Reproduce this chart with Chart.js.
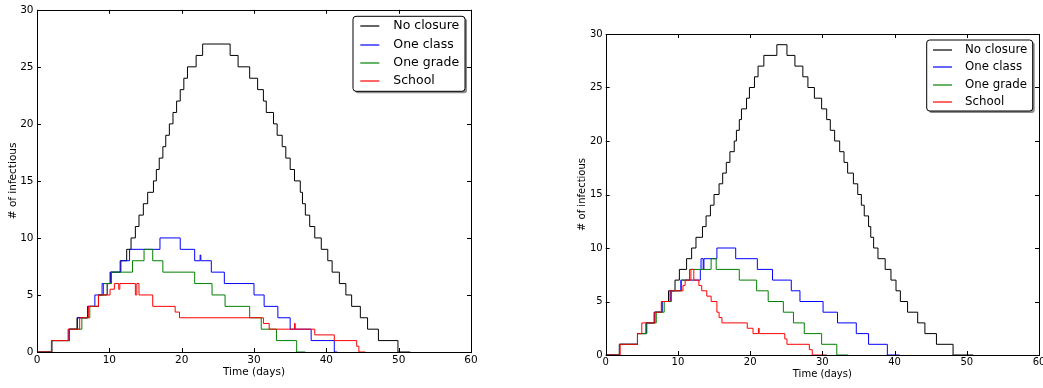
<!DOCTYPE html>
<html>
<head>
<meta charset="utf-8">
<script src="https://cdn.jsdelivr.net/npm/chart.js@4.4.0/dist/chart.umd.min.js"></script>
<style>
  html, body { margin: 0; padding: 0; background: #fff; overflow: hidden; width: 1043px; height: 388px; }
  .panel { position: absolute; top: 0; width: 520px; height: 388px; }
  #left { left: 0; }
  #right { left: 540px; }
</style>
</head>
<body>
<div class="panel" id="left"><canvas id="chartLeft" width="520" height="388"></canvas></div>
<div class="panel" id="right"><canvas id="chartRight" width="520" height="388"></canvas></div>
<script>
// Datos: cada serie es una función escalón (tiempo del cambio, nuevo valor)
const etiquetas = ['No closure', 'One class', 'One grade', 'School'];
const colores = ['#000000', '#0000ff', '#008000', '#ff0000'];
const ticksX = [0, 10, 20, 30, 40, 50, 60];
const ticksY = [0, 5, 10, 15, 20, 25, 30];

// Gráfico izquierdo
const izqNoClosureT = [0, 2.07, 4.47, 5.53, 7.0, 8.5, 9.7, 10.2, 11.5, 12.4, 13.0, 13.6, 14.1, 14.7, 15.3, 16.1, 16.5, 16.9, 17.4, 17.8, 18.3, 18.8, 19.3, 19.8, 20.3, 20.8, 22.0, 22.9,
  26.7, 27.8, 29.4, 30.5, 31.3, 31.7, 32.7, 33.2, 33.9, 34.4, 35.0, 35.6, 36.4, 36.7, 37.1, 37.7, 38.4, 39.3, 40.2, 40.8, 41.8, 42.7, 43.5, 44.7, 45.7, 47.2, 49.9, 51.6];
const izqNoClosureV = [0, 1, 2, 3, 4, 5, 6, 7, 8, 9, 10, 11, 12, 13, 14, 15, 16, 17, 18, 19, 20, 21, 22, 23, 24, 25, 26, 27,
  26, 25, 24, 23, 22, 21, 20, 19, 18, 17, 16, 15, 14, 13, 12, 11, 10, 9, 8, 7, 6, 5, 4, 3, 2, 1, 0, 0];
const izqOneClassT = [0, 2.0, 4.4, 5.6, 7.0, 8.0, 9.0, 10.1, 11.6, 12.8, 17.0, 19.8, 21.8, 22.55, 22.65, 24.1, 25.9, 30.0, 31.4, 33.3, 35.0, 37.9, 41.1, 41.5];
const izqOneClassV = [0, 1, 2, 3, 4, 5, 6, 7, 8, 9, 10, 9, 8, 8.5, 8, 7, 6, 5, 4, 3, 2, 1, 0, 0];
const izqOneGradeT = [0, 2.0, 4.5, 6.2, 7.3, 8.5, 9.2, 10.3, 13.2, 14.8, 16.0, 17.4, 21.8, 24.2, 26.0, 29.4, 31.0, 33.1, 35.9, 37.1];
const izqOneGradeV = [0, 1, 2, 3, 4, 5, 6, 7, 8, 9, 8, 7, 6, 5, 4, 3, 2, 1, 0, 0];
const izqSchoolT = [0, 2.0, 4.3, 5.9, 7.1, 8.5, 10.1, 10.7, 11.3, 11.45, 13.6, 13.8, 14.1, 16.0, 19.1, 19.7, 31.3, 32.1, 35.6, 35.7, 38.4, 41.1, 44.2, 44.5, 45.4];
const izqSchoolV = [0, 1, 2, 3, 4, 5, 5.5, 6, 5.5, 6, 5, 6, 5, 4, 3.5, 3, 2.5, 2, 2.5, 2, 1.5, 1, 0.5, 0, 0];

// Gráfico derecho
const derNoClosureT = [0, 1.9, 4.4, 5.6, 6.8, 7.8, 8.7, 9.6, 10.2, 11.2, 11.9, 12.5, 13.4, 13.9, 14.5, 15.0, 15.7, 16.2, 16.7, 17.2, 17.8, 18.1, 18.5, 18.8, 19.5, 19.9, 20.6, 21.1, 21.9, 23.7,
  25.1, 26.2, 27.3, 28.0, 28.9, 29.9, 30.6, 31.1, 31.7, 32.4, 33.0, 33.5, 34.3, 34.9, 35.4, 35.8, 36.4, 36.7, 37.1, 37.7, 38.7, 39.5, 40.2, 40.8, 41.8, 43.2, 44.2, 45.8, 48.1, 50.9];
const derNoClosureV = [0, 1, 2, 3, 4, 5, 6, 7, 8, 9, 10, 11, 12, 13, 14, 15, 16, 17, 18, 19, 20, 21, 22, 23, 24, 25, 26, 27, 28, 29,
  28, 27, 26, 25, 24, 23, 22, 21, 20, 19, 18, 17, 16, 15, 14, 13, 12, 11, 10, 9, 8, 7, 6, 5, 4, 3, 2, 1, 0, 0];
const derOneClassT = [0, 1.9, 4.4, 5.6, 6.7, 7.8, 9.0, 10.4, 13.1, 13.2, 13.5, 13.6, 15.4, 18.0, 21.0, 23.1, 25.7, 26.9, 30.1, 32.1, 34.7, 36.4, 39.0, 40.7];
const derOneClassV = [0, 1, 2, 3, 4, 5, 6, 7, 8, 9, 8, 9, 10, 9, 8, 7, 6, 5, 4, 3, 2, 1, 0, 0];
const derOneGradeT = [0, 1.9, 4.4, 5.7, 7.0, 8.1, 9.1, 10.5, 11.6, 14.6, 15.3, 18.5, 20.9, 22.5, 24.6, 26.0, 27.5, 29.9, 32.0, 33.6];
const derOneGradeV = [0, 1, 2, 3, 4, 5, 6, 7, 8, 9, 8, 7, 6, 5, 4, 3, 2, 1, 0, 0];
const derSchoolT = [0, 2.0, 4.4, 5.0, 6.8, 7.7, 8.9, 10.7, 11.0, 11.8, 12.2, 12.9, 13.3, 14.0, 14.6, 15.4, 15.7, 16.1, 19.6, 20.4, 21.15, 21.25, 24.8, 25.1, 28.2, 28.6, 30.6];
const derSchoolV = [0, 1, 2, 3, 4, 5, 6, 6.5, 7, 8, 7, 6.5, 6, 5.5, 5, 4, 3.5, 3, 2.5, 2, 2.5, 2, 1.5, 1, 0.5, 0, 0];

// Construye un dataset escalonado (horizontal hasta el tiempo del cambio, luego vertical)
function serie(i, t, v) {
    return {
        label: etiquetas[i],
        data: t.map((x, k) => ({ x: x, y: v[k] })),
        borderColor: colores[i],
        backgroundColor: colores[i],
        borderWidth: 1,
        pointRadius: 0,
        stepped: 'before',
        fill: false,
        order: 3 - i
    };
}

// Marco y marcas de los ejes hacia dentro (estilo matplotlib)
const marcoPlugin = {
    id: 'marco',
    afterDatasetsDraw(chart, args, opts) {
        const ctx = chart.ctx;
        const a = chart.chartArea;
        const len = opts.len || 4;
        ctx.save();
        ctx.strokeStyle = '#000';
        ctx.lineWidth = 1;
        ctx.strokeRect(Math.round(a.left) + 0.5, Math.round(a.top) + 0.5,
            Math.round(a.right) - Math.round(a.left), Math.round(a.bottom) - Math.round(a.top));
        ctx.beginPath();
        chart.scales.x.ticks.forEach(t => {
            const px = Math.round(chart.scales.x.getPixelForValue(t.value)) + 0.5;
            ctx.moveTo(px, a.bottom); ctx.lineTo(px, a.bottom - len);
            ctx.moveTo(px, a.top); ctx.lineTo(px, a.top + len);
        });
        chart.scales.y.ticks.forEach(t => {
            const py = Math.round(chart.scales.y.getPixelForValue(t.value)) + 0.5;
            ctx.moveTo(a.left, py); ctx.lineTo(a.left + len, py);
            ctx.moveTo(a.right, py); ctx.lineTo(a.right - len, py);
        });
        ctx.stroke();
        ctx.restore();
    }
};

// Leyenda con caja redondeada y sombra dentro del área
const leyendaPlugin = {
    id: 'leyendaCaja',
    afterDraw(chart, args, o) {
        const ctx = chart.ctx;
        const a = chart.chartArea;
        const x = a.right - o.inset - o.w;
        const y = a.top + o.insetTop;
        function caja(px, py) {
            ctx.beginPath();
            ctx.roundRect(px, py, o.w, o.h, 3);
        }
        ctx.save();
        caja(x + 2, y + 2);
        ctx.fillStyle = 'rgba(0,0,0,0.45)';
        ctx.fill();
        caja(x, y);
        ctx.fillStyle = '#fff';
        ctx.fill();
        ctx.strokeStyle = '#000';
        ctx.lineWidth = 1;
        ctx.stroke();
        ctx.font = o.size + 'px "DejaVu Sans"';
        ctx.textBaseline = 'middle';
        etiquetas.forEach((txt, i) => {
            const cy = Math.round(y + o.first + i * o.gap);
            ctx.beginPath();
            ctx.strokeStyle = colores[i];
            ctx.lineWidth = 1.2;
            ctx.moveTo(x + o.lineX, cy);
            ctx.lineTo(x + o.lineX + o.lineW, cy);
            ctx.stroke();
            ctx.fillStyle = '#000';
            ctx.fillText(txt, x + o.textX, cy);
        });
        ctx.restore();
    }
};

function crearGrafico(id, datasets, g) {
    const fuente = { family: 'DejaVu Sans', size: g.fs };
    return new Chart(document.getElementById(id), {
        type: 'line',
        data: { datasets: datasets },
        plugins: [marcoPlugin, leyendaPlugin],
        options: {
            responsive: false,
            animation: false,
            layout: { padding: { top: g.top, right: g.right, left: 0, bottom: 0 } },
            scales: {
                x: {
                    type: 'linear', min: 0, max: 60,
                    afterBuildTicks: s => { s.ticks = ticksX.map(v => ({ value: v })); },
                    afterFit: s => { s.height = g.xh; },
                    grid: { display: false, drawTicks: false },
                    border: { display: false },
                    ticks: { font: fuente, color: '#000', padding: g.xpad, maxRotation: 0 },
                    title: { display: true, text: 'Time (days)', font: fuente, color: '#000', padding: { top: 0, bottom: g.xtpad } }
                },
                y: {
                    type: 'linear', min: 0, max: 30,
                    afterBuildTicks: s => { s.ticks = ticksY.map(v => ({ value: v })); },
                    afterFit: s => { s.width = g.yw; },
                    grid: { display: false, drawTicks: false },
                    border: { display: false },
                    ticks: { font: fuente, color: '#000', padding: g.ypad },
                    title: { display: true, text: '# of infectious', font: fuente, color: '#000', padding: { top: g.ytpad, bottom: 0 } }
                }
            },
            plugins: {
                legend: { display: false },
                tooltip: { enabled: false },
                marco: { len: 4 },
                leyendaCaja: g.leyenda
            }
        }
    });
}

document.addEventListener('DOMContentLoaded', () => {
    crearGrafico('chartLeft', [
        serie(0, izqNoClosureT, izqNoClosureV),
        serie(1, izqOneClassT, izqOneClassV),
        serie(2, izqOneGradeT, izqOneGradeV),
        serie(3, izqSchoolT, izqSchoolV)
    ], {
        fs: 10.5, top: 8.5, right: 49, xh: 36, yw: 37, xpad: 2, xtpad: 9, ypad: 3.5, ytpad: 7,
        leyenda: { inset: 6, insetTop: 6.5, w: 112, h: 75, first: 10, gap: 18.3, lineX: 7.3, lineW: 19, textX: 40.3, size: 12.5 }
    });
    crearGrafico('chartRight', [
        serie(0, derNoClosureT, derNoClosureV),
        serie(1, derOneClassT, derOneClassV),
        serie(2, derOneGradeT, derOneGradeV),
        serie(3, derSchoolT, derSchoolV)
    ], {
        fs: 10, top: 34, right: 21, xh: 33, yw: 65.7, xpad: 1.5, xtpad: 7.7, ypad: 3, ytpad: 36.7,
        leyenda: { inset: 6.3, insetTop: 6, w: 106, h: 71, first: 9.7, gap: 17.4, lineX: 6.3, lineW: 19, textX: 38.3, size: 11.8 }
    });
});
</script>
</body>
</html>
